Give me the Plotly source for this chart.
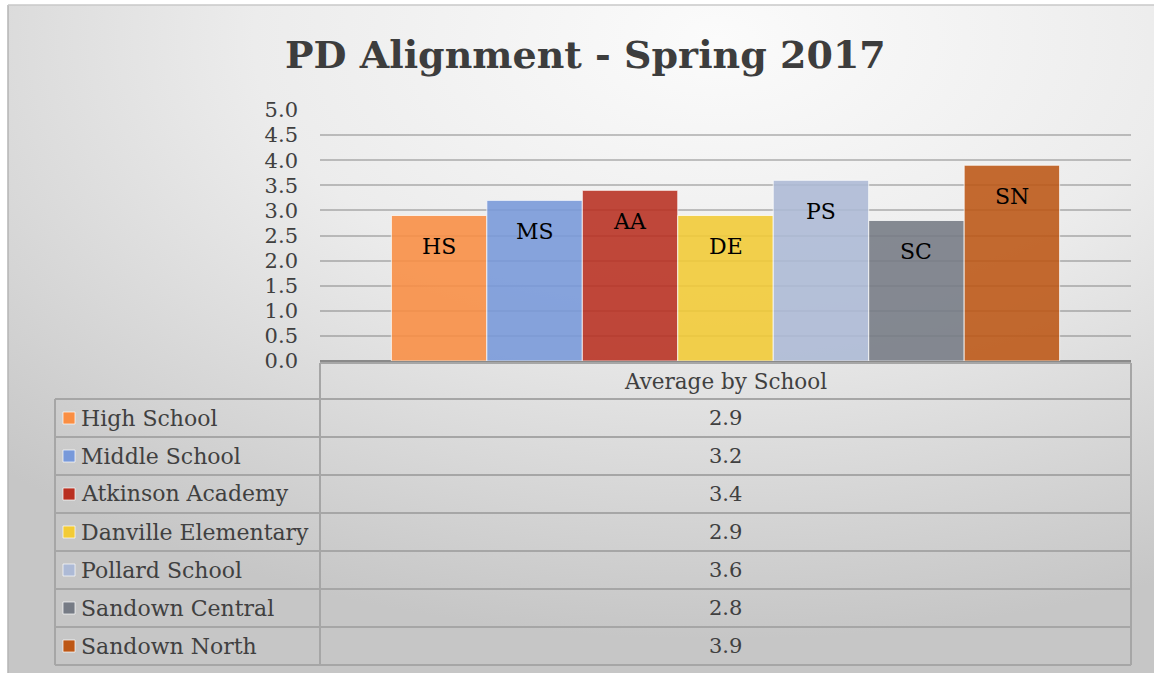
import base64
import plotly.graph_objects as go

# ---- data ----
category = "Average by School"
schools = ["High School", "Middle School", "Atkinson Academy", "Danville Elementary",
           "Pollard School", "Sandown Central", "Sandown North"]
abbrevs = ["HS", "MS", "AA", "DE", "PS", "SC", "SN"]
values = [2.9, 3.2, 3.4, 2.9, 3.6, 2.8, 3.9]
colors = ["#FA8E43", "#7899DA", "#B93021", "#F3CB35", "#ADBAD6", "#767B85", "#BD5715"]
title_text = "PD Alignment - Spring 2017"
y_ticks = [0.0, 0.5, 1.0, 1.5, 2.0, 2.5, 3.0, 3.5, 4.0, 4.5, 5.0]

W, H = 1154, 673
SERIF = "DejaVu Serif"
BARGAP = 0.176
TXT = "#404040"

def px(x):
    return x / W

def py(y):
    return 1 - y / H

fig = go.Figure()
for name, val, col in zip(schools, values, colors):
    fig.add_trace(go.Bar(
        x=[category], y=[val], name=name,
        marker=dict(color=col, opacity=0.88, line=dict(color="rgba(255,255,255,0.8)", width=1)),
        showlegend=False, hoverinfo="skip",
    ))

annotations = []
n = len(values)
for i, (ab, val) in enumerate(zip(abbrevs, values)):
    xc = -0.5 + BARGAP / 2 + (i + 0.5) * (1 - BARGAP) / n
    annotations.append(dict(x=xc, y=val, xref="x", yref="y", text=ab, showarrow=False,
                            xanchor="center", yanchor="top", yshift=-17,
                            font=dict(family=SERIF, size=22, color="#000000")))

# title
annotations.append(dict(x=px(585), y=py(54), xref="paper", yref="paper", text=f"<b>{title_text}</b>",
                        showarrow=False, xanchor="center", yanchor="middle",
                        font=dict(family=SERIF, size=38, color="#3d3d3d")))

# ---- data table ----
tbl_left, tbl_mid, tbl_right = 55, 320, 1131
hdr_top, hdr_bot, row_h = 363, 399, 38
line_col = "#A6A6A6"
shapes = []
# outer frame line of the chart area (left and top)
shapes.append(dict(type="line", xref="paper", yref="paper", x0=px(8), x1=px(8), y0=0, y1=py(5),
                   line=dict(color="#B4B4B4", width=1.5)))
shapes.append(dict(type="line", xref="paper", yref="paper", x0=px(8), x1=1, y0=py(5), y1=py(5),
                   line=dict(color="#C8C8C8", width=1.5)))
shapes.append(dict(type="line", xref="paper", yref="paper", x0=px(tbl_mid), x1=px(tbl_right),
                   y0=py(hdr_top), y1=py(hdr_top), line=dict(color=line_col, width=2)))
for k in range(len(schools) + 1):
    yy = hdr_bot + k * row_h
    shapes.append(dict(type="line", xref="paper", yref="paper", x0=px(tbl_left), x1=px(tbl_right),
                       y0=py(yy), y1=py(yy), line=dict(color=line_col, width=2)))
bottom = hdr_bot + len(schools) * row_h
shapes.append(dict(type="line", xref="paper", yref="paper", x0=px(tbl_left), x1=px(tbl_left),
                   y0=py(hdr_bot), y1=py(bottom), line=dict(color=line_col, width=2)))
for xx in (tbl_mid, tbl_right):
    shapes.append(dict(type="line", xref="paper", yref="paper", x0=px(xx), x1=px(xx),
                       y0=py(hdr_top), y1=py(bottom), line=dict(color=line_col, width=2)))

annotations.append(dict(x=px((tbl_mid + tbl_right) / 2), y=py((hdr_top + hdr_bot) / 2), xref="paper", yref="paper",
                        text=category, showarrow=False, xanchor="center", yanchor="middle",
                        font=dict(family=SERIF, size=21.5, color=TXT)))
for k, (name, val, col) in enumerate(zip(schools, values, colors)):
    yc = hdr_bot + k * row_h + row_h / 2
    shapes.append(dict(type="rect", xref="paper", yref="paper", x0=px(63), x1=px(75),
                       y0=py(yc - 6), y1=py(yc + 6), fillcolor=col,
                       line=dict(color="rgba(255,255,255,0.7)", width=1)))
    annotations.append(dict(x=px(79), y=py(yc), xref="paper", yref="paper", text=name, showarrow=False,
                            xanchor="left", yanchor="middle",
                            font=dict(family=SERIF, size=22, color=TXT)))
    annotations.append(dict(x=px((tbl_mid + tbl_right) / 2), y=py(yc), xref="paper", yref="paper",
                            text=f"{val:.1f}", showarrow=False, xanchor="center", yanchor="middle",
                            font=dict(family=SERIF, size=21, color=TXT)))

# background gradient
svg = ('<svg xmlns="http://www.w3.org/2000/svg" width="1146" height="668" viewBox="0 0 1146 668" '
       'preserveAspectRatio="none"><defs><radialGradient id="g" cx="0.62" cy="0.05" r="0.9">'
       '<stop offset="0" stop-color="#fbfbfb"/><stop offset="0.45" stop-color="#ececec"/>'
       '<stop offset="1" stop-color="#c6c6c6"/></radialGradient></defs>'
       '<rect x="0" y="0" width="1146" height="668" fill="url(#g)"/></svg>')
uri = "data:image/svg+xml;base64," + base64.b64encode(svg.encode()).decode()

fig.update_layout(
    width=W, height=H, autosize=False,
    margin=dict(l=0, r=0, t=0, b=0, pad=0),
    paper_bgcolor="#ffffff", plot_bgcolor="rgba(0,0,0,0)",
    barmode="group", bargap=BARGAP, bargroupgap=0,
    images=[dict(source=uri, xref="paper", yref="paper", x=px(8), y=py(5), sizex=1 - px(8),
                 sizey=py(5), xanchor="left", yanchor="top", sizing="stretch", layer="below")],
    xaxis=dict(domain=[px(320), px(1131)], showticklabels=False, showgrid=False, zeroline=False,
               showline=False, range=[-0.5, 0.5], automargin=False, ticks=""),
    yaxis=dict(domain=[py(361), py(110)], range=[0, 5], tickvals=y_ticks,
               ticktext=[f"{v:.1f}" for v in y_ticks], automargin=False,
               showgrid=True, gridcolor="rgba(110,110,110,0.4)", gridwidth=1.5,
               zeroline=True, zerolinecolor="#8a8a8a", zerolinewidth=3,
               ticks="", ticklabelstandoff=21,
               tickfont=dict(family=SERIF, size=21, color=TXT)),
    shapes=shapes, annotations=annotations,
)

fig.write_html("out.html", config={"displayModeBar": False},
               post_script="document.body.style.margin='0';document.body.style.overflow='hidden';")
